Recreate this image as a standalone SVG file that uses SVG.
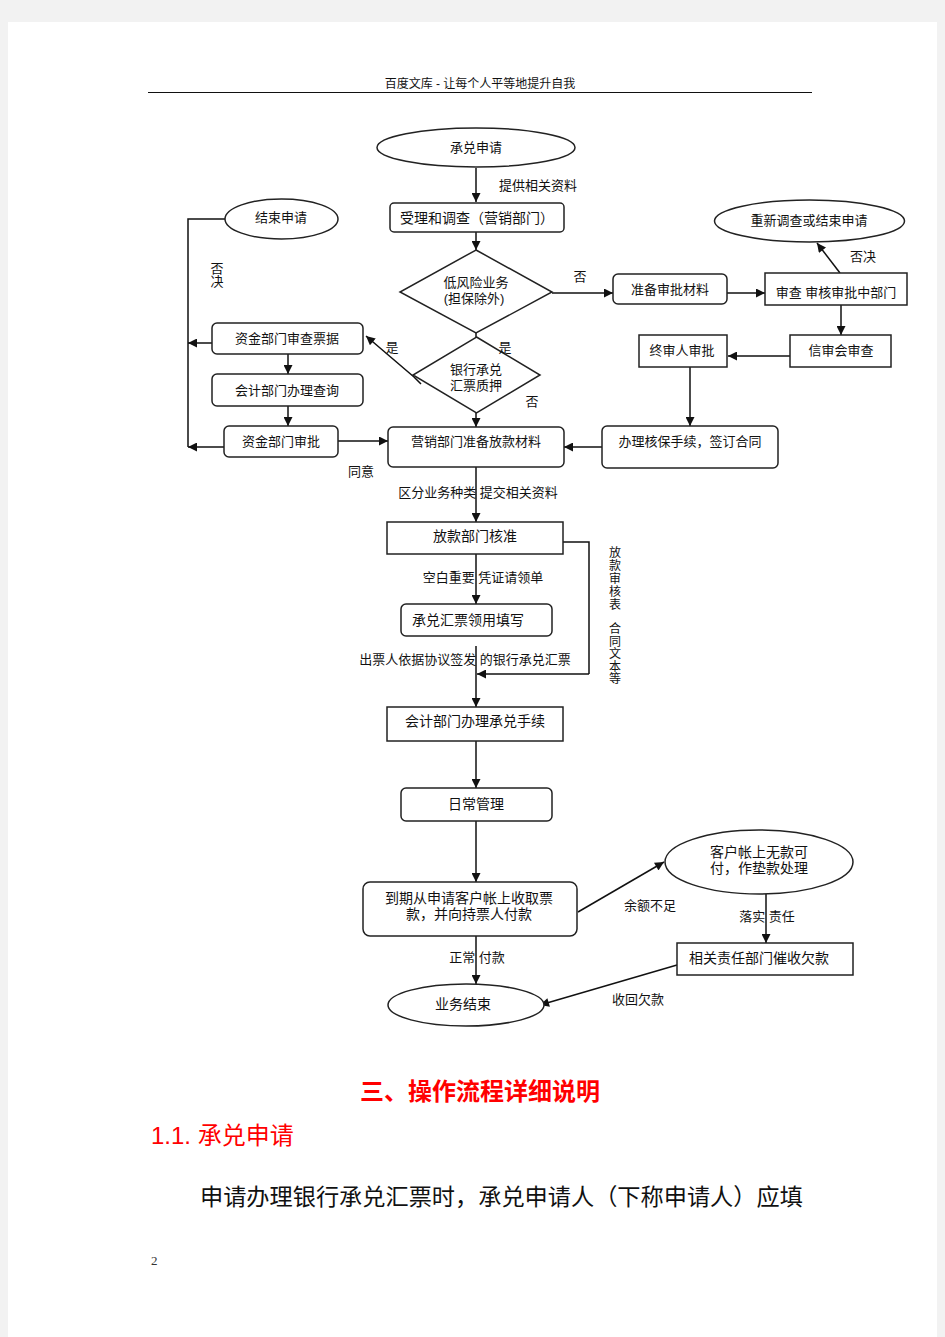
<svg xmlns="http://www.w3.org/2000/svg" width="945" height="1337" viewBox="0 0 945 1337">
<defs>
<marker id="ah" viewBox="0 0 10 10" refX="10" refY="5" markerWidth="10" markerHeight="9" markerUnits="userSpaceOnUse" orient="auto">
<path d="M0,0 L10,5 L0,10 z" fill="#111"/>
</marker>
<style>
.t{font-family:"Liberation Sans","Noto Sans CJK SC",sans-serif;font-size:13px;fill:#111;text-anchor:middle;dominant-baseline:central}
.b{font-size:14px}
.v{font-size:12px}
.n{fill:#fff;stroke:#222;stroke-width:1.5}
.c{fill:none;stroke:#111;stroke-width:1.5}
.a{marker-end:url(#ah)}
</style>
</defs>
<rect x="0" y="0" width="945" height="1337" fill="#f2f2f2"/>
<rect x="8" y="22" width="929" height="1315" fill="#fff"/>
<g id="header">
<text x="480" y="84" class="t" style="font-size:12px">百度文库 - 让每个人平等地提升自我</text>
<line x1="148" y1="92.5" x2="812" y2="92.5" stroke="#111" stroke-width="1"/>
</g>
<g id="connectors">
<line class="c a" x1="476" y1="168" x2="476" y2="202"/>
<line class="c a" x1="476" y1="232" x2="476" y2="250"/>
<line class="c" x1="476" y1="333" x2="476" y2="337"/>
<line class="c a" x1="552" y1="293" x2="613" y2="293"/>
<line class="c a" x1="727" y1="293" x2="765" y2="293"/>
<line class="c a" x1="840" y1="273" x2="817" y2="243"/>
<line class="c a" x1="841" y1="305" x2="841" y2="335"/>
<line class="c a" x1="790" y1="356" x2="728" y2="356"/>
<line class="c a" x1="690" y1="367" x2="690" y2="426"/>
<line class="c a" x1="602" y1="447" x2="564" y2="447"/>
<line class="c a" x1="476" y1="413" x2="476" y2="427"/>
<polyline class="c a" points="421,384 414,377 366,336"/>
<line class="c a" x1="288" y1="354" x2="288" y2="374"/>
<line class="c a" x1="288" y1="406" x2="288" y2="426"/>
<line class="c a" x1="338" y1="441" x2="388" y2="441"/>
<polyline class="c" points="225,219 188,219 188,447"/>
<line class="c a" x1="212" y1="343" x2="188" y2="343"/>
<line class="c a" x1="224" y1="447" x2="188" y2="447"/>
<line class="c a" x1="476" y1="467" x2="476" y2="522"/>
<polyline class="c" points="563,542 589,542 589,674"/>
<line class="c a" x1="589" y1="674" x2="477" y2="674"/>
<line class="c a" x1="476" y1="554" x2="476" y2="604"/>
<line class="c a" x1="476" y1="646" x2="476" y2="707"/>
<line class="c a" x1="476" y1="741" x2="476" y2="788"/>
<line class="c a" x1="476" y1="821" x2="476" y2="882"/>
<line class="c a" x1="578" y1="912" x2="664" y2="862"/>
<line class="c a" x1="766" y1="894" x2="766" y2="943"/>
<line class="c a" x1="677" y1="965" x2="540" y2="1005"/>
<line class="c a" x1="476" y1="936" x2="476" y2="984"/>
</g>
<g id="n_apply"><ellipse class="n" cx="476" cy="147.5" rx="99" ry="19.5"/><text class="t" x="476" y="147">承兑申请</text></g>
<text class="t" x="538" y="185">提供相关资料</text>
<g id="n_accept"><rect class="n" x="390" y="203" width="174" height="29" rx="4"/><text class="t b" x="477" y="218">受理和调查（营销部门）</text></g>
<g id="n_lowrisk"><polygon class="n" points="476,250 552,292 476,333 400,292"/><text class="t" x="476" y="282">低风险业务</text><text class="t" x="474" y="298">(担保除外)</text></g>
<text class="t" x="580" y="276">否</text>
<g id="n_prep"><rect class="n" x="613" y="274" width="114" height="30" rx="5"/><text class="t" x="670" y="289">准备审批材料</text></g>
<g id="n_review"><rect class="n" x="765" y="273" width="142" height="32"/><text class="t" x="836" y="292">审查 审核审批中部门</text></g>
<g id="n_reinvestigate"><ellipse class="n" cx="809.5" cy="221" rx="95" ry="21"/><text class="t" x="809" y="220">重新调查或结束申请</text></g>
<text class="t" x="863" y="256">否决</text>
<g id="n_credit"><rect class="n" x="790" y="335" width="101" height="32"/><text class="t" x="841" y="350">信审会审查</text></g>
<g id="n_final"><rect class="n" x="639" y="335" width="88" height="32"/><text class="t" x="682" y="350">终审人审批</text></g>
<g id="n_end"><ellipse class="n" cx="281.5" cy="219" rx="56.5" ry="20"/><text class="t" x="281" y="217">结束申请</text></g>
<text class="t" x="217" y="268">否</text>
<text class="t" x="217" y="281">决</text>
<g id="n_fundcheck"><rect class="n" x="212" y="323" width="151" height="31" rx="5"/><text class="t" x="287" y="338">资金部门审查票据</text></g>
<g id="n_pledge"><polygon class="n" points="476.5,337 540,375 476.5,413 413,375"/><text class="t" x="476" y="369">银行承兑</text><text class="t" x="476" y="385">汇票质押</text></g>
<text class="t" x="392" y="347">是</text>
<text class="t" x="505" y="347">是</text>
<text class="t" x="532" y="401">否</text>
<g id="n_acctquery"><rect class="n" x="212" y="374" width="151" height="32" rx="5"/><text class="t" x="287" y="390">会计部门办理查询</text></g>
<g id="n_fundapprove"><rect class="n" x="224" y="426" width="114" height="31" rx="5"/><text class="t" x="281" y="441">资金部门审批</text></g>
<g id="n_loanprep"><rect class="n" x="388" y="427" width="176" height="40" rx="5"/><text class="t" x="476" y="441">营销部门准备放款材料</text></g>
<g id="n_guarantee"><rect class="n" x="602" y="426" width="176" height="42" rx="5"/><text class="t" x="690" y="441">办理核保手续，签订合同</text></g>
<text class="t" x="361" y="471">同意</text>
<text class="t" x="478" y="492">区分业务种类 提交相关资料</text>
<g id="n_loanapprove"><rect class="n" x="387" y="522" width="176" height="32"/><text class="t b" x="475" y="536">放款部门核准</text></g>
<text class="t v" x="615" y="553">放</text><text class="t v" x="615" y="566">款</text><text class="t v" x="615" y="579">审</text><text class="t v" x="615" y="592">核</text><text class="t v" x="615" y="605">表</text>
<text class="t v" x="615" y="629">合</text><text class="t v" x="615" y="641.5">同</text><text class="t v" x="615" y="654">文</text><text class="t v" x="615" y="666.5">本</text><text class="t v" x="615" y="679">等</text>
<text class="t" x="483" y="577">空白重要 凭证请领单</text>
<g id="n_draftfill"><rect class="n" x="401" y="604" width="151" height="32" rx="5"/><text class="t b" x="468" y="620">承兑汇票领用填写</text></g>
<text class="t" x="465" y="659">出票人依据协议签发 的银行承兑汇票</text>
<g id="n_acctproc"><rect class="n" x="387" y="707" width="176" height="34"/><text class="t b" x="475" y="721">会计部门办理承兑手续</text></g>
<g id="n_daily"><rect class="n" x="401" y="788" width="151" height="33" rx="5"/><text class="t b" x="476" y="804">日常管理</text></g>
<g id="n_collect"><rect class="n" x="363" y="882" width="214" height="54" rx="7"/><text class="t b" x="469" y="898">到期从申请客户帐上收取票</text><text class="t b" x="469" y="914">款，并向持票人付款</text></g>
<g id="n_advance"><ellipse class="n" cx="759" cy="862" rx="94" ry="32"/><text class="t b" x="759" y="852">客户帐上无款可</text><text class="t b" x="759" y="868">付，作垫款处理</text></g>
<text class="t" x="650" y="905">余额不足</text>
<text class="t" x="767" y="916">落实 责任</text>
<g id="n_dun"><rect class="n" x="677" y="943" width="176" height="32"/><text class="t b" x="759" y="958">相关责任部门催收欠款</text></g>
<text class="t" x="477" y="957">正常 付款</text>
<text class="t" x="638" y="999">收回欠款</text>
<g id="n_finish"><ellipse class="n" cx="466" cy="1005" rx="78" ry="21"/><text class="t b" x="463" y="1004">业务结束</text></g>
<g id="body">
<text x="480" y="1100" text-anchor="middle" style="font-family:'Noto Sans CJK SC',sans-serif;font-size:24px;font-weight:bold;fill:#ff0000">三、操作流程详细说明</text>
<text x="151" y="1144" style="font-family:'Liberation Sans','Noto Sans CJK SC',sans-serif;font-size:24px;fill:#ff0000">1.1. 承兑申请</text>
<text x="200" y="1205" style="font-family:'Noto Sans CJK SC',sans-serif;font-size:23.2px;fill:#111">申请办理银行承兑汇票时，承兑申请人（下称申请人）应填</text>
<text x="151" y="1265" style="font-family:'Liberation Serif',serif;font-size:13px;fill:#333">2</text>
</g>
</svg>
